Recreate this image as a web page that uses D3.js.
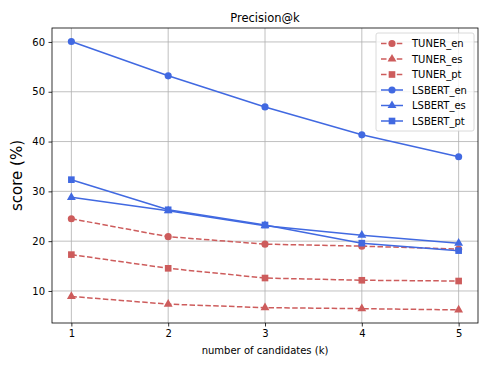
<!DOCTYPE html>
<html>
<head>
<meta charset="utf-8">
<script src="https://cdn.jsdelivr.net/npm/d3@7"></script>
<style>
  body { margin: 0; background: #fff; }
  svg { font-family: "DejaVu Sans", sans-serif; }
</style>
</head>
<body>
<svg width="490" height="368"></svg>
<script>
// data
var ks = [1, 2, 3, 4, 5];
var tunerEn = [24.5, 20.9, 19.4, 19.0, 18.4];
var tunerEs = [8.9, 7.35, 6.65, 6.45, 6.2];
var tunerPt = [17.3, 14.55, 12.6, 12.15, 12.0];
var lsbertEn = [60.1, 53.2, 46.95, 41.35, 36.95];
var lsbertEs = [28.8, 26.1, 23.1, 21.2, 19.6];
var lsbertPt = [32.35, 26.3, 23.25, 19.6, 18.1];
var yTicks = [10, 20, 30, 40, 50, 60];

var red = "#cd5c5c", blue = "#4169e1";
var series = [
  {name: "TUNER_en", values: tunerEn, color: red, dash: "5.5,2.4", marker: "circle"},
  {name: "TUNER_es", values: tunerEs, color: red, dash: "5.5,2.4", marker: "triangle"},
  {name: "TUNER_pt", values: tunerPt, color: red, dash: "5.5,2.4", marker: "square"},
  {name: "LSBERT_en", values: lsbertEn, color: blue, dash: null, marker: "circle"},
  {name: "LSBERT_es", values: lsbertEs, color: blue, dash: null, marker: "triangle"},
  {name: "LSBERT_pt", values: lsbertPt, color: blue, dash: null, marker: "square"}
];

var margin = {left: 52, right: 12, top: 28, bottom: 45};
var width = 490, height = 368;

var svg = d3.select("svg");

var x = d3.scaleLinear().domain([0.8, 5.2]).range([margin.left, width - margin.right]);
var y = d3.scaleLinear().domain([3.57, 62.8]).range([height - margin.bottom, margin.top]);

// grid
var grid = svg.append("g").attr("stroke", "#b0b0b0").attr("stroke-width", 0.8);
grid.selectAll(".gx").data(ks).join("line")
    .attr("x1", d => x(d)).attr("x2", d => x(d))
    .attr("y1", y.range()[0]).attr("y2", y.range()[1]);
grid.selectAll(".gy").data(yTicks).join("line")
    .attr("y1", d => y(d)).attr("y2", d => y(d))
    .attr("x1", x.range()[0]).attr("x2", x.range()[1]);

var symbols = {circle: d3.symbolCircle, triangle: d3.symbolTriangle, square: d3.symbolSquare};
var sizes = {circle: 40, triangle: 34, square: 44};

var line = d3.line().x((d, i) => x(ks[i])).y(d => y(d));

series.forEach(s => {
  svg.append("path")
      .attr("d", line(s.values))
      .attr("fill", "none")
      .attr("stroke", s.color)
      .attr("stroke-width", 1.5)
      .attr("stroke-dasharray", s.dash);
  svg.append("g").selectAll("path")
    .data(s.values)
    .join("path")
      .attr("transform", (d, i) => "translate(" + x(ks[i]) + "," + y(d) + ")")
      .attr("d", d3.symbol(symbols[s.marker], sizes[s.marker]))
      .attr("fill", s.color);
});

// axes
var xAxis = svg.append("g")
    .attr("transform", "translate(0," + y.range()[0] + ")")
    .call(d3.axisBottom(x).tickValues(ks).tickFormat(d3.format("d")).tickSize(3.5).tickPadding(3.5));
var yAxis = svg.append("g")
    .attr("transform", "translate(" + x.range()[0] + ",0)")
    .call(d3.axisLeft(y).tickValues(yTicks).tickSize(3.5).tickPadding(3.5));
[xAxis, yAxis].forEach(a => {
  a.selectAll("text").attr("font-size", 10).attr("fill", "#000").attr("font-family", "DejaVu Sans");
  a.selectAll("line").attr("stroke", "#000").attr("stroke-width", 0.8);
  a.select(".domain").remove();
});

svg.append("rect")
    .attr("x", x.range()[0]).attr("y", y.range()[1])
    .attr("width", x.range()[1] - x.range()[0])
    .attr("height", y.range()[0] - y.range()[1])
    .attr("fill", "none").attr("stroke", "#000").attr("stroke-width", 0.8);

// labels
svg.append("text").attr("x", (x.range()[0] + x.range()[1]) / 2).attr("y", 22)
    .attr("text-anchor", "middle").attr("font-size", 11.5).text("Precision@k");
svg.append("text").attr("x", (x.range()[0] + x.range()[1]) / 2).attr("y", 354)
    .attr("text-anchor", "middle").attr("font-size", 10).text("number of candidates (k)");
svg.append("text")
    .attr("transform", "translate(22," + ((y.range()[0] + y.range()[1]) / 2) + ") rotate(-90)")
    .attr("text-anchor", "middle").attr("font-size", 15).text("score (%)");

// legend
var lg = svg.append("g").attr("transform", "translate(376,33)");
lg.append("rect").attr("width", 98).attr("height", 98).attr("rx", 2)
    .attr("fill", "#fff").attr("fill-opacity", 0.8)
    .attr("stroke", "#d0d0d0").attr("stroke-width", 0.8);
var item = lg.selectAll(".item").data(series).join("g")
    .attr("transform", (d, i) => "translate(0," + (10.5 + i * 15.5) + ")");
item.append("line").attr("x1", 5).attr("x2", 27)
    .attr("stroke", d => d.color).attr("stroke-width", 1.5)
    .attr("stroke-dasharray", d => d.dash);
item.append("path").attr("transform", "translate(16,0)")
    .attr("d", d => d3.symbol(symbols[d.marker], sizes[d.marker])())
    .attr("fill", d => d.color);
item.append("text").attr("x", 36).attr("dy", "0.35em")
    .attr("font-size", 10).text(d => d.name);
</script>
</body>
</html>
